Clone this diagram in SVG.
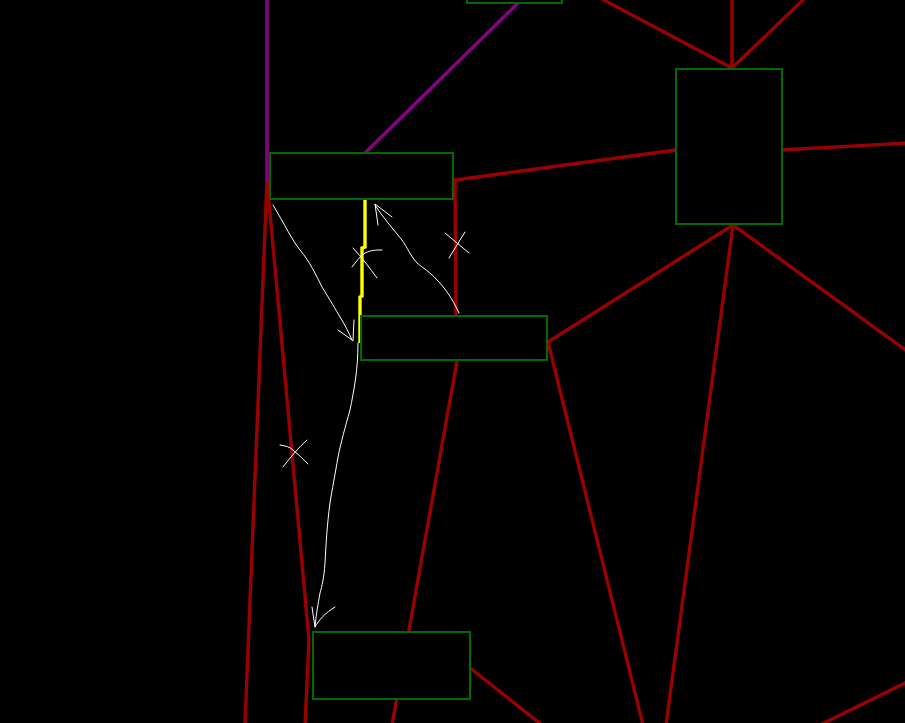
<svg xmlns="http://www.w3.org/2000/svg" width="905" height="723" viewBox="0 0 905 723">
<style>
.e{fill:none;stroke:#990000;stroke-width:3.4;stroke-linecap:round;stroke-linejoin:round}
.p{fill:none;stroke:#880088;stroke-width:3.4;stroke-linecap:round}
.y{fill:none;stroke:#ffff00;stroke-width:3.4}
.n{fill:#000;stroke:#006a00;stroke-width:2}
.s{fill:none;stroke:#ffffff;stroke-width:1;stroke-linecap:round;stroke-linejoin:round}
</style>
<rect width="905" height="723" fill="#000"/>
<g id="connectors">
<line class="e" x1="732" y1="-2" x2="732" y2="68"/>
<line class="e" x1="600" y1="-2" x2="732" y2="68"/>
<line class="e" x1="805" y1="-2" x2="732" y2="68"/>
<line class="e" x1="782" y1="150" x2="907" y2="143"/>
<polyline class="e" points="676,150 455,180 456,316"/>
<line class="e" x1="733" y1="225" x2="548" y2="342"/>
<line class="e" x1="733" y1="225" x2="907" y2="351"/>
<line class="e" x1="733" y1="225" x2="666" y2="725"/>
<line class="e" x1="548" y1="342" x2="643" y2="725"/>
<line class="e" x1="457" y1="361" x2="392" y2="725"/>
<line class="e" x1="470" y1="668" x2="542" y2="725"/>
<line class="e" x1="820" y1="725" x2="907" y2="682"/>
<line class="e" x1="267" y1="180" x2="245" y2="725"/>
<polyline class="e" points="267,180 309,640 305,725"/>
<line class="p" x1="267" y1="-2" x2="267" y2="180"/>
<line class="p" x1="518" y1="3" x2="366" y2="152"/>
<polyline class="y" points="365,200 365,247 362,248 362,296 360,297 360,343"/>
</g>
<g id="node-a"><rect class="n" x="467" y="-40" width="95" height="43"/></g>
<g id="node-b"><rect class="n" x="270" y="153" width="183" height="46"/></g>
<g id="node-c"><rect class="n" x="361" y="316" width="186" height="44"/></g>
<g id="node-d"><rect class="n" x="676" y="69" width="106" height="155"/></g>
<g id="node-e"><rect class="n" x="313" y="632" width="157" height="67"/></g>
<g id="sketch">
<path class="s" d="M273,205 C285,225 292,240 300,250 C310,262 316,275 322,287 C330,300 336,310 340,317 C345,325 349,333 352,340"/>
<path class="s" d="M338,330 L352,340 M354,320 L353,341"/>
<path class="s" d="M459,313 C452,298 445,288 437,280 C430,272 423,268 417,263 C410,255 407,247 402,240 C392,228 382,216 375,205"/>
<path class="s" d="M392,217 L375,204 L378,225"/>
<path class="s" d="M358,343 C358,370 354,390 350,410 C345,428 341,442 338,457 C335,475 332,490 330,503 C327,525 326,545 325,563 C324,578 322,586 320,593 C318,605 316,615 315,627"/>
<path class="s" d="M335,607 C325,613 319,620 315,627 L312,607"/>
<path class="s" d="M353,248 C362,258 370,268 377,278 M352,267 C356,262 360,256 365,253 C371,250 376,250 382,250"/>
<path class="s" d="M445,233 L469,253 M449,258 L465,232"/>
<path class="s" d="M280,445 C286,446 290,447 293,450 C299,455 304,460 308,464 M283,467 C290,458 298,448 307,440"/>
</g>
</svg>
